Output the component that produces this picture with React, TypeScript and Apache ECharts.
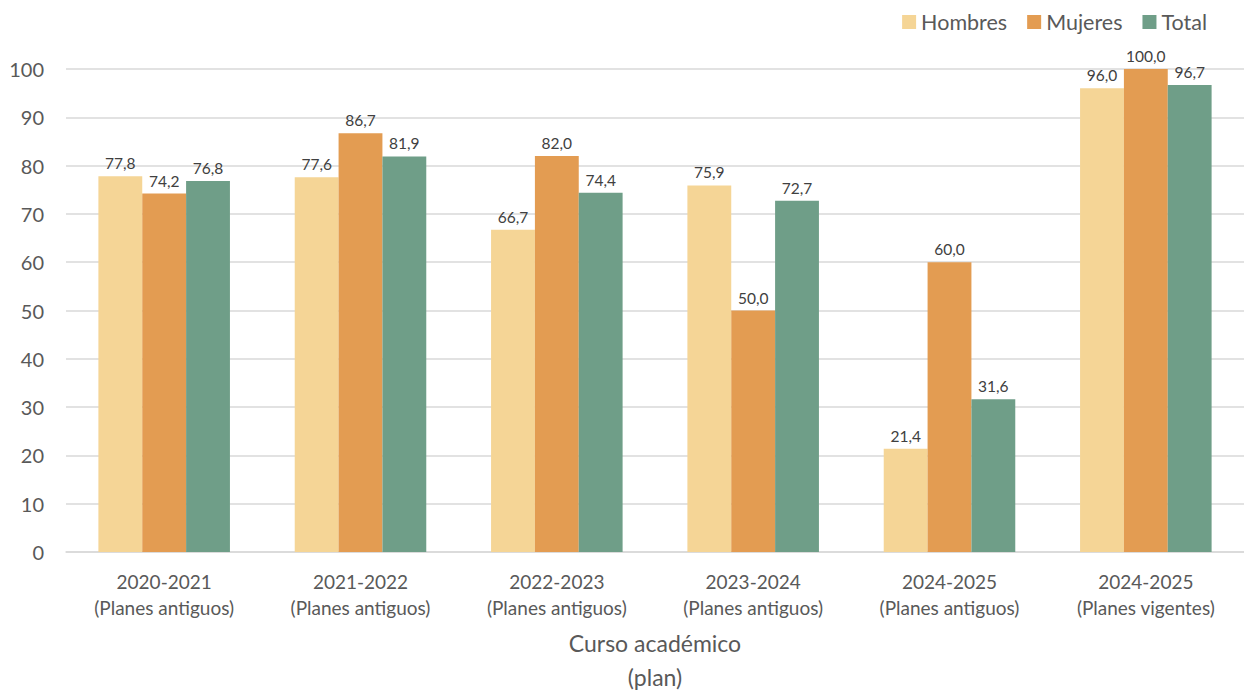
import React, { useEffect, useRef } from "react";
import * as echarts from "echarts";

const categories = [
  "2020-2021\n(Planes antiguos)",
  "2021-2022\n(Planes antiguos)",
  "2022-2023\n(Planes antiguos)",
  "2023-2024\n(Planes antiguos)",
  "2024-2025\n(Planes antiguos)",
  "2024-2025\n(Planes vigentes)",
];
const hombres = [77.8, 77.6, 66.7, 75.9, 21.4, 96.0];
const mujeres = [74.2, 86.7, 82.0, 50.0, 60.0, 100.0];
const total = [76.8, 81.9, 74.4, 72.7, 31.6, 96.7];

const FONT = "Lato, 'Open Sans', sans-serif";
const fmt = (p: any) => Number(p.value).toFixed(1).replace(".", ",");

export default function App() {
  const ref = useRef<HTMLDivElement>(null);
  useEffect(() => {
    const chart = echarts.init(ref.current!, null, { renderer: "svg" });
    const label = {
      show: true,
      position: "top" as const,
      formatter: fmt,
      color: "#404040",
      fontSize: 15.5,
      fontFamily: FONT,
      distance: 5,
    };
    chart.setOption({
      animation: false,
      textStyle: { fontFamily: FONT },
      legend: {
        top: 6,
        right: 32,
        itemWidth: 14,
        itemHeight: 14,
        itemGap: 20,
        icon: "rect",
        textStyle: { color: "#595959", fontSize: 21.5, fontFamily: FONT },
        data: ["Hombres", "Mujeres", "Total"],
      },
      grid: { left: 66, right: 0, top: 69, bottom: 138, outerBoundsMode: "none", containLabel: false },
      xAxis: {
        type: "category",
        data: categories,
        axisTick: { show: false },
        axisLine: { lineStyle: { color: "#d9d9d9", width: 1.5 } },
        axisLabel: {
          color: "#595959",
          fontSize: 19,
          lineHeight: 26,
          margin: 16,
          fontFamily: FONT,
        },
        name: "Curso académico\n(plan)",
        nameLocation: "middle",
        nameGap: 74,
        nameTextStyle: {
          color: "#595959",
          fontSize: 23,
          lineHeight: 34,
          fontFamily: FONT,
          verticalAlign: "top",
          padding: [0, 0, 6, 0],
        },
      },
      yAxis: {
        type: "value",
        min: 0,
        max: 100,
        interval: 10,
        axisLine: { show: false },
        axisTick: { show: false },
        splitLine: { lineStyle: { color: "#d9d9d9", width: 1.5 } },
        axisLabel: { color: "#595959", fontSize: 20, margin: 22, fontFamily: FONT },
      },
      series: [
        {
          name: "Hombres",
          type: "bar",
          data: hombres,
          barGap: "0%",
          barCategoryGap: "33%",
          itemStyle: { color: "#F5D596" },
          label,
        },
        {
          name: "Mujeres",
          type: "bar",
          data: mujeres,
          itemStyle: { color: "#E39C52" },
          label,
        },
        {
          name: "Total",
          type: "bar",
          data: total,
          itemStyle: { color: "#6F9E88" },
          label,
        },
      ],
    });
    return () => chart.dispose();
  }, []);
  return (
    <div
      ref={ref}
      style={{ position: "absolute", left: 0, top: 0, width: 1244, height: 690, background: "#fff" }}
    />
  );
}
